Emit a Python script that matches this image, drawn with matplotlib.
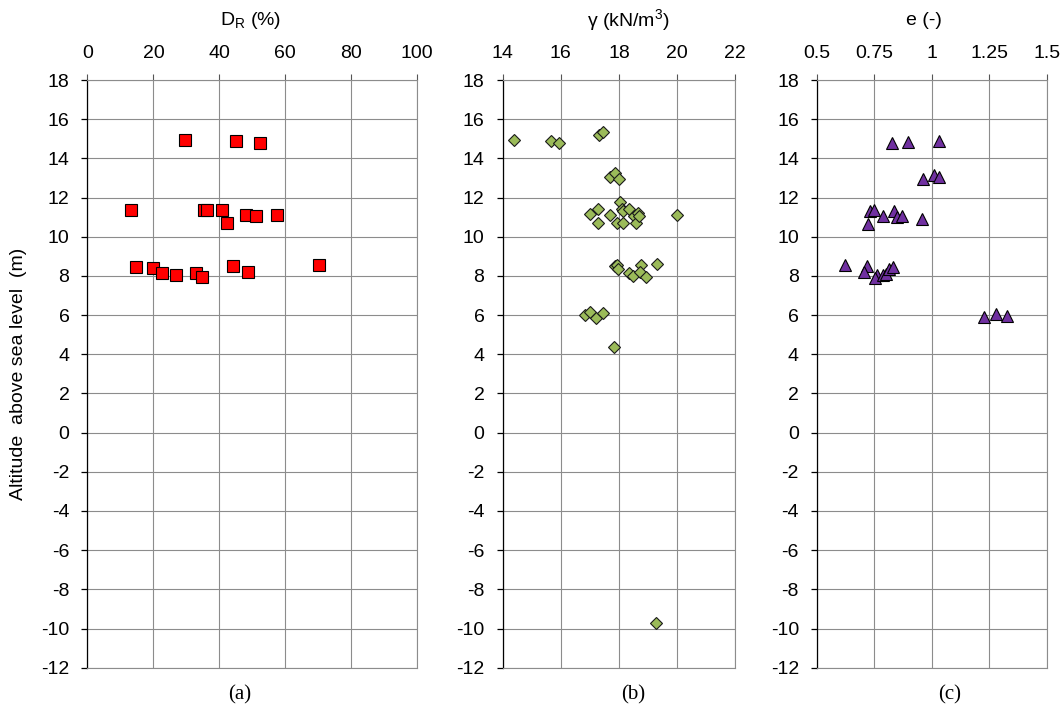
import matplotlib
matplotlib.use('Agg')
import matplotlib.pyplot as plt

plt.rcParams['font.family'] = ['Liberation Sans', 'DejaVu Sans']
plt.rcParams['mathtext.fontset'] = 'custom'
plt.rcParams['mathtext.rm'] = 'Liberation Sans'
plt.rcParams['axes.unicode_minus'] = False

# relative density D_R (%) vs altitude (m)
dr = [29.7, 45.1, 52.4, 13.3, 35.3, 36.3, 40.8, 42.2, 48.2, 51.0, 57.5,
      14.8, 20.0, 22.7, 26.9, 33.0, 34.8, 44.2, 48.7, 70.3]
z_dr = [14.94, 14.9, 14.8, 11.37, 11.37, 11.37, 11.37, 10.72, 11.1, 11.06, 11.1,
        8.47, 8.38, 8.13, 8.04, 8.13, 7.93, 8.52, 8.21, 8.55]

# unit weight gamma (kN/m3) vs altitude (m)
gam = [14.39, 15.67, 15.93, 17.33, 17.46, 17.71, 17.86, 18.0,
       16.99, 17.28, 17.28, 17.71, 18.02, 18.1, 18.14, 17.92, 18.15, 18.34,
       18.52, 18.67, 18.57, 18.69, 20.0,
       17.85, 17.94, 17.97, 18.34, 18.5, 18.77, 18.71, 18.94, 19.31,
       16.82, 17.01, 17.22, 17.44, 17.82, 19.29]
z_gam = [14.94, 14.9, 14.8, 15.2, 15.35, 13.06, 13.23, 12.94,
         11.15, 11.4, 10.69, 11.11, 11.78, 11.4, 11.3, 10.69, 10.69, 11.4,
         11.06, 11.2, 10.69, 11.06, 11.1,
         8.51, 8.58, 8.37, 8.14, 8.0, 8.56, 8.22, 7.93, 8.59,
         5.98, 6.15, 5.85, 6.12, 4.37, -9.71]

# void ratio e (-) vs altitude (m)
void = [0.828, 0.897, 1.032, 0.962, 1.009, 1.029,
        0.73, 0.749, 0.722, 0.788, 0.836, 0.846, 0.871, 0.959,
        0.62, 0.718, 0.703, 0.759, 0.751, 0.788, 0.802, 0.814, 0.831,
        1.227, 1.279, 1.328]
z_void = [14.77, 14.85, 14.9, 12.93, 13.15, 13.03,
          11.33, 11.36, 10.63, 11.06, 11.33, 10.99, 11.07, 10.9,
          8.54, 8.52, 8.21, 8.04, 7.87, 8.04, 8.09, 8.33, 8.47,
          5.9, 6.05, 5.95]

yticks = list(range(-12, 20, 2))
grid_col = '#8c8c8c'


def setup_axis(ax, xlim, xticks, xticklabels):
    ax.set_xlim(*xlim)
    ax.set_ylim(-12, 18)
    ax.set_xticks(xticks)
    ax.set_xticklabels(xticklabels)
    ax.set_yticks(yticks)
    ax.xaxis.tick_top()
    ax.grid(True, color=grid_col, lw=0.8)
    ax.set_axisbelow(True)
    for s in ['top', 'right', 'bottom']:
        ax.spines[s].set_color(grid_col)
        ax.spines[s].set_linewidth(0.8)
    ax.spines['left'].set_color('black')
    ax.spines['left'].set_linewidth(0.9)
    ax.tick_params(axis='x', direction='out', length=4.3, width=0.8,
                   color='#555555', labelsize=14, pad=8.5)
    ax.tick_params(axis='y', direction='out', length=4.5, width=0.9,
                   color='black', labelsize=14, pad=8.5)


fig = plt.figure(figsize=(10.64, 7.10), dpi=100)
bottom, height = 0.0596, 0.8277

ax1 = fig.add_axes([0.0822, bottom, 0.3100, height])
setup_axis(ax1, (0, 100), [0, 20, 40, 60, 80, 100],
           ['0', '20', '40', '60', '80', '100'])
ax1.plot(dr, z_dr, 's', ms=8.4, mfc='#ff0000', mec='black', mew=0.8, ls='none')

ax2 = fig.add_axes([0.4723, bottom, 0.2188, height])
setup_axis(ax2, (14, 22), [14, 16, 18, 20, 22], ['14', '16', '18', '20', '22'])
ax2.plot(gam, z_gam, 'D', ms=6.2, mfc='#9bbb59', mec='#1a1a1a', mew=0.8, ls='none')

ax3 = fig.add_axes([0.7679, bottom, 0.2159, height])
setup_axis(ax3, (0.5, 1.5), [0.5, 0.75, 1.0, 1.25, 1.5],
           ['0.5', '0.75', '1', '1.25', '1.5'])
ax3.plot(void, z_void, '^', ms=8.6, mfc='#7030a0', mec='black', mew=0.8, ls='none')

# axis titles above each panel
fig.text(251 / 1064, 0.971, r'D$_{\mathregular{R}}$ (%)', ha='center', va='center', fontsize=14)
fig.text(628 / 1064, 0.971, r'γ (kN/m$^{\mathregular{3}}$)', ha='center', va='center', fontsize=14)
fig.text(924 / 1064, 0.971, 'e (-)', ha='center', va='center', fontsize=14)

fig.text(19 / 1064, 0.473, 'Altitude  above sea level  (m)', rotation=90,
         ha='center', va='center', fontsize=14)

# panel captions
for x, lab in [(240, '(a)'), (633, '(b)'), (950, '(c)')]:
    fig.text(x / 1064, 0.0211, lab, ha='center', va='center', fontsize=15,
             family='Liberation Serif')

fig.savefig('out.png', dpi=100)
